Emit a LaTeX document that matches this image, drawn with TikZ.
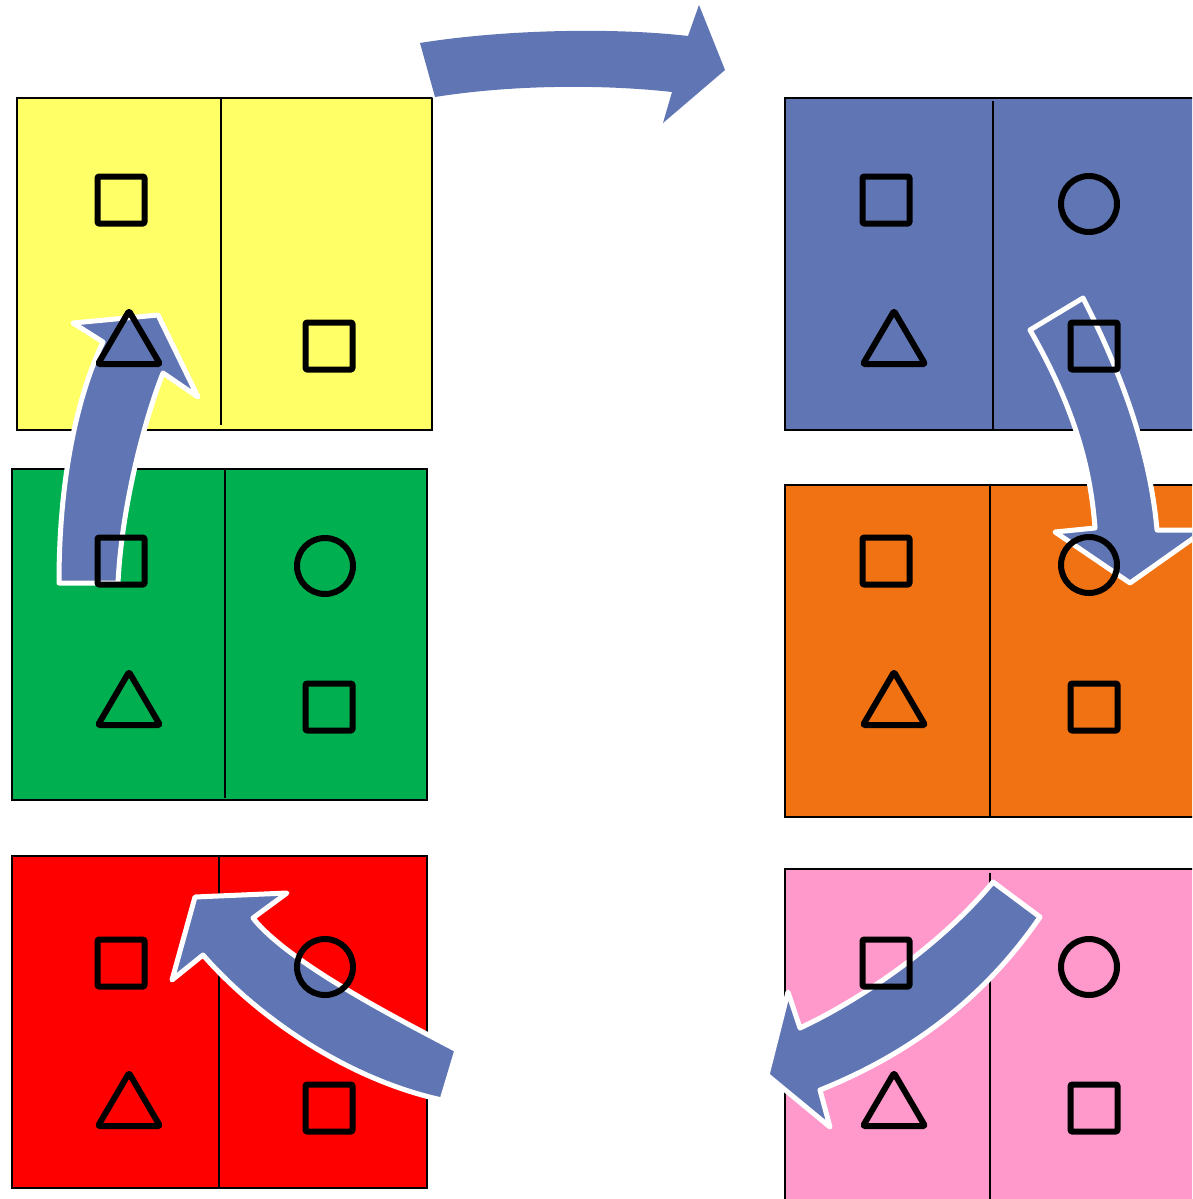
\documentclass[tikz,border=0pt]{standalone}
\definecolor{cyel}{HTML}{FFFF66}
\definecolor{cgrn}{HTML}{00B050}
\definecolor{cred}{HTML}{FF0000}
\definecolor{cblu}{HTML}{6076B4}
\definecolor{corg}{HTML}{F07212}
\definecolor{cpnk}{HTML}{FF99CC}
\definecolor{arrowblue}{HTML}{6076B4}
\begin{document}
\begin{tikzpicture}[x=1pt,y=-1pt,
  panel/.style={draw=black,line width=1.2pt},
  divider/.style={draw=black,line width=1.8pt},
  glyph/.style={draw=black,line width=6pt,line join=round,rounded corners=1.2pt},
  barrow/.style={fill=arrowblue,draw=white,line width=5pt,line join=round},
  toparrow/.style={fill=arrowblue,preaction={draw=white,line width=5pt,line join=round}},
  sqr/.pic={\draw[glyph] (-23.5,-23.5) rectangle (23.5,23.5);},
  crc/.pic={\draw[glyph] (0,0) circle[radius=28];},
  tri/.pic={\draw[glyph] (0,-26.5) -- (31,26.5) -- (-31,26.5) -- cycle;}
]
\useasboundingbox (0,0) rectangle (1192,1199);
\clip (0,0) rectangle (1192,1199);
\fill[white] (0,0) rectangle (1192,1199);

% panels
\filldraw[panel,fill=cyel] (17,98) rectangle (432,430);
\draw[divider] (221,98) -- (221,425);
\filldraw[panel,fill=cgrn] (12,469) rectangle (427,800);
\draw[divider] (225,469) -- (225,798);
\filldraw[panel,fill=cred] (12,856) rectangle (427,1188);
\draw[divider] (219,856) -- (219,1188);
\filldraw[panel,fill=cblu] (785,98) rectangle (1205,430);
\draw[divider] (993,101) -- (993,430);
\filldraw[panel,fill=corg] (785,485) rectangle (1205,817);
\draw[divider] (990,485) -- (990,817);
\filldraw[panel,fill=cpnk] (785,869) rectangle (1205,1210);
\draw[divider] (990,873) -- (990,1210);

% arrows
\fill[toparrow] (420,43) .. controls (500,30) and (610,27) .. (688,36) -- (699,5) -- (725,70) -- (663,123) -- (672,92) .. controls (600,84) and (510,85) .. (435,97) -- cycle;
\filldraw[barrow] (59,583) -- (118,583) .. controls (122,500) and (148,410) .. (163,373) -- (198,397) -- (158,315) -- (73,323) -- (103,342) .. controls (80,390) and (59,470) .. (59,583) -- cycle;
\filldraw[barrow] (1030,330) -- (1083,298) .. controls (1120,370) and (1150,450) .. (1157,530) -- (1205,530) -- (1130,583) -- (1055,532) -- (1095,528) .. controls (1090,460) and (1070,400) .. (1030,330) -- cycle;
\filldraw[barrow] (457,1050) .. controls (410,1025) and (290,965) .. (253,918) -- (287,893) -- (195,897) -- (172,980) -- (203,955) .. controls (260,1020) and (350,1080) .. (442,1100) -- cycle;
\filldraw[barrow] (993,882) .. controls (945,940) and (870,995) .. (800,1028) -- (788,992) -- (767,1075) -- (830,1127) -- (820,1090) .. controls (920,1050) and (990,990) .. (1040,917) -- cycle;

% yellow
\pic at (121,200) {sqr};
\pic at (129,337.5) {tri};
\pic at (329,346) {sqr};
% green
\pic at (121,561) {sqr};
\pic at (325,566) {crc};
\pic at (129,698.5) {tri};
\pic at (329,707) {sqr};
% red
\pic at (121,963) {sqr};
\pic at (325,967) {crc};
\pic at (129,1099.5) {tri};
\pic at (329,1108) {sqr};
% blue
\pic at (886,200) {sqr};
\pic at (1089,204) {crc};
\pic at (894,337.5) {tri};
\pic at (1094,346) {sqr};
% orange
\pic at (886,561) {sqr};
\pic at (1089,565) {crc};
\pic at (894,698.5) {tri};
\pic at (1094,707) {sqr};
% pink
\pic at (886,963) {sqr};
\pic at (1089,967) {crc};
\pic at (894,1099.5) {tri};
\pic at (1094,1108) {sqr};
\end{tikzpicture}
\end{document}
